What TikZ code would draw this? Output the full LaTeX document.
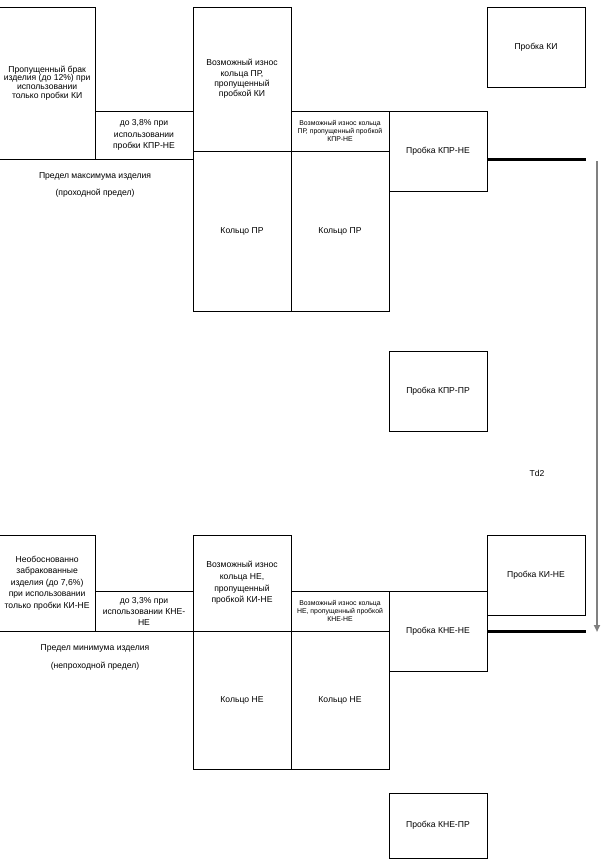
\documentclass[tikz,border=0pt]{standalone}
\usepackage{fontspec}
\setmainfont{Liberation Sans}
\usetikzlibrary{arrows.meta}
\newcommand\bx[7]{\node[box, #1, minimum width={#5-#3}, minimum height={#6-#4}] (#2) at ({(#3+#5)/2},{(#4+#6)/2}) {#7};}
\tikzset{
  box/.style={draw, line width=1pt, inner sep=0pt, align=center, font=\fontsize{8.6}{11.6}\selectfont},
  tight/.style={font=\fontsize{8.6}{8.8}\selectfont},
  mid/.style={font=\fontsize{8.6}{10.3}\selectfont},
  smallbox/.style={font=\fontsize{6.9}{8}\selectfont},
  lbl/.style={inner sep=0pt, align=center, font=\fontsize{8.6}{8.8}\selectfont},
  thickbar/.style={line width=3pt},
  tdarrow/.style={draw=black!50, line width=2pt, -{Triangle[width=6pt,length=7pt]}}
}
\begin{document}
\begin{tikzpicture}[x=1pt,y=-1pt]
\useasboundingbox (0,0) rectangle (608,862);
% top section
\bx{tight}{A}{-0.7}{7}{95}{159}{Пропущенный брак\\изделия (до 12\%) при\\использовании\\только пробки КИ}
\bx{}{B}{95}{111}{193}{159}{до 3,8\% при\\использовании\\пробки КПР-НЕ}
\bx{mid}{C}{193}{7}{291}{151}{Возможный износ\\кольца ПР,\\пропущенный\\пробкой КИ}
\bx{smallbox}{D}{291}{111}{389}{151}{Возможный износ кольца\\ПР, пропущенный пробкой\\КПР-НЕ}
\bx{}{E}{389}{111}{487}{191}{Пробка КПР-НЕ}
\bx{}{KI}{487}{7}{585}{87}{Пробка КИ}
\bx{}{R1}{193}{151}{291}{311}{Кольцо ПР}
\bx{}{R2}{291}{151}{389}{311}{Кольцо ПР}
\bx{}{KPRPR}{389}{351}{487}{431}{Пробка КПР-ПР}
\node[lbl] (L1) at (95,176) {Предел максимума изделия};
\node[lbl] (L2) at (95,193) {(проходной предел)};
\coordinate (t1) at (586,159);
\draw[thickbar] (E.east |- t1) -- (t1);
% arrow
\coordinate (a1) at (597,161);
\coordinate (a2) at (597,632);
\draw[tdarrow] (a1) -- (a2);
\node[lbl] (Td) at (537,473) {Td2};
% bottom section
\bx{}{F}{-0.7}{535}{95}{631}{Необоснованно\\забракованные\\изделия (до 7,6\%)\\при использовании\\только пробки КИ-НЕ}
\bx{font=\fontsize{8.6}{11}\selectfont}{G}{95}{591}{193}{631}{до 3,3\% при\\использовании КНЕ-\\НЕ}
\bx{}{H}{193}{535}{291}{631}{Возможный износ\\кольца НЕ,\\пропущенный\\пробкой КИ-НЕ}
\bx{smallbox}{I}{291}{591}{389}{631}{Возможный износ кольца\\НЕ, пропущенный пробкой\\КНЕ-НЕ}
\bx{}{J}{389}{591}{487}{671}{Пробка КНЕ-НЕ}
\bx{}{KINE}{487}{535}{585}{615}{Пробка КИ-НЕ}
\bx{}{N1}{193}{631}{291}{769}{Кольцо НЕ}
\bx{}{N2}{291}{631}{389}{769}{Кольцо НЕ}
\bx{}{KNEPR}{389}{793}{487}{858}{Пробка КНЕ-ПР}
\node[lbl] (L3) at (95,648) {Предел минимума изделия};
\node[lbl] (L4) at (95,666) {(непроходной предел)};
\coordinate (t2) at (586,631);
\draw[thickbar] (J.east |- t2) -- (t2);
\end{tikzpicture}
\end{document}
